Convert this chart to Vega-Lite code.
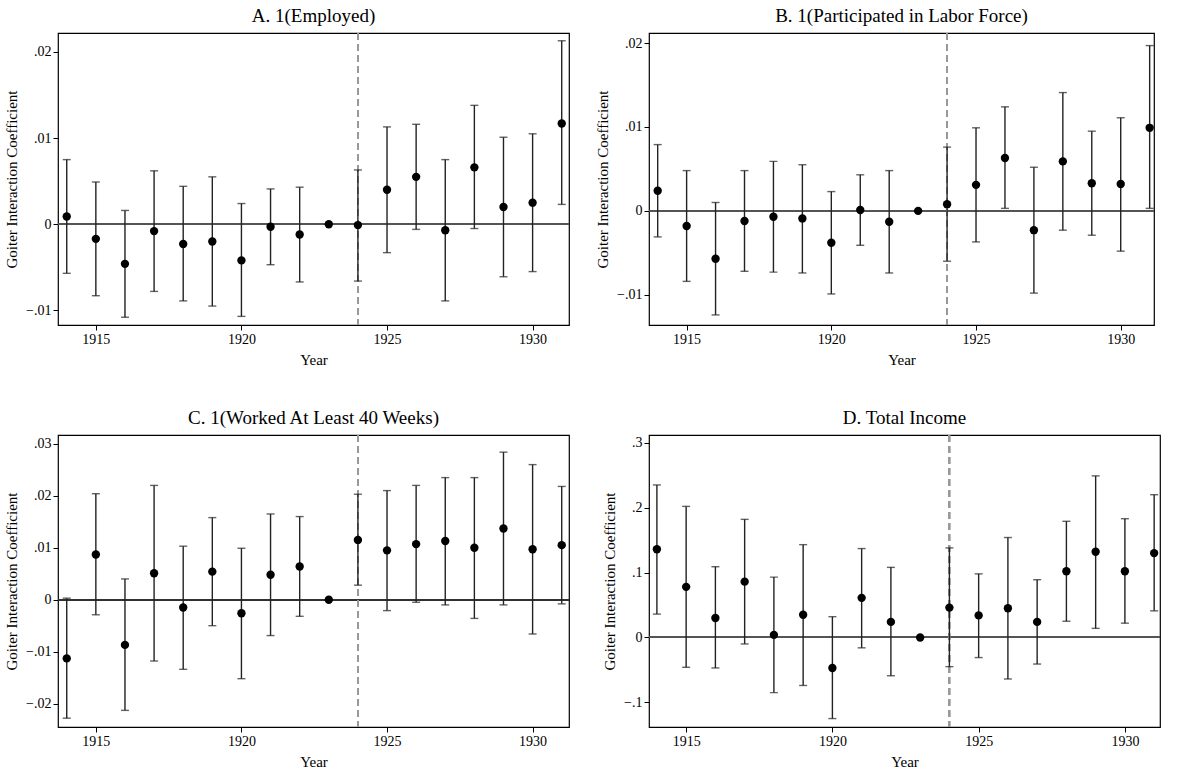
{
  "$schema": "https://vega.github.io/schema/vega-lite/v6.json",
  "padding": {"left": 4, "top": 6, "right": 0, "bottom": 0},
  "background": "white",
  "config": {
    "font": "Liberation Serif",
    "view": {"stroke": "black", "strokeWidth": 1.2},
    "title": {"fontSize": 19, "fontWeight": "normal", "font": "Liberation Serif", "offset": 6},
    "axis": {"grid": false, "labelFont": "Liberation Serif", "titleFont": "Liberation Serif", "labelFontSize": 14, "titleFontSize": 15, "titleFontWeight": "normal", "domain": false, "tickColor": "black", "labelColor": "black", "titleColor": "black", "tickSize": 5, "titlePadding": 6}
  },
  "spacing": {"row": 40, "column": 24},
  "columns": 2,
  "datasets": {
    "A": [
      {"year": 1914, "b": 0.0009, "lo": -0.0057, "hi": 0.0075},
      {"year": 1915, "b": -0.0017, "lo": -0.0083, "hi": 0.0049},
      {"year": 1916, "b": -0.0046, "lo": -0.0108, "hi": 0.0016},
      {"year": 1917, "b": -0.0008, "lo": -0.0078, "hi": 0.0062},
      {"year": 1918, "b": -0.0023, "lo": -0.0089, "hi": 0.0044},
      {"year": 1919, "b": -0.002, "lo": -0.0095, "hi": 0.0055},
      {"year": 1920, "b": -0.0042, "lo": -0.0107, "hi": 0.0024},
      {"year": 1921, "b": -0.0003, "lo": -0.0047, "hi": 0.0041},
      {"year": 1922, "b": -0.0012, "lo": -0.0067, "hi": 0.0043},
      {"year": 1923, "b": 0, "lo": 0, "hi": 0},
      {"year": 1924, "b": -0.0001, "lo": -0.0066, "hi": 0.0063},
      {"year": 1925, "b": 0.004, "lo": -0.0033, "hi": 0.0113},
      {"year": 1926, "b": 0.0055, "lo": -0.0006, "hi": 0.0116},
      {"year": 1927, "b": -0.0007, "lo": -0.0089, "hi": 0.0075},
      {"year": 1928, "b": 0.0066, "lo": -0.0005, "hi": 0.0138},
      {"year": 1929, "b": 0.002, "lo": -0.0061, "hi": 0.0101},
      {"year": 1930, "b": 0.0025, "lo": -0.0055, "hi": 0.0105},
      {"year": 1931, "b": 0.0117, "lo": 0.0023, "hi": 0.0213}
    ],
    "B": [
      {"year": 1914, "b": 0.0024, "lo": -0.0031, "hi": 0.0079},
      {"year": 1915, "b": -0.0018, "lo": -0.0084, "hi": 0.0048},
      {"year": 1916, "b": -0.0057, "lo": -0.0124, "hi": 0.001},
      {"year": 1917, "b": -0.0012, "lo": -0.0072, "hi": 0.0048},
      {"year": 1918, "b": -0.0007, "lo": -0.0073, "hi": 0.0059},
      {"year": 1919, "b": -0.0009, "lo": -0.0074, "hi": 0.0055},
      {"year": 1920, "b": -0.0038, "lo": -0.0099, "hi": 0.0023},
      {"year": 1921, "b": 0.0001, "lo": -0.0041, "hi": 0.0043},
      {"year": 1922, "b": -0.0013, "lo": -0.0074, "hi": 0.0048},
      {"year": 1923, "b": 0, "lo": 0, "hi": 0},
      {"year": 1924, "b": 0.0008, "lo": -0.006, "hi": 0.0076},
      {"year": 1925, "b": 0.0031, "lo": -0.0037, "hi": 0.0099},
      {"year": 1926, "b": 0.0063, "lo": 0.0003, "hi": 0.0124},
      {"year": 1927, "b": -0.0023, "lo": -0.0098, "hi": 0.0052},
      {"year": 1928, "b": 0.0059, "lo": -0.0023, "hi": 0.0141},
      {"year": 1929, "b": 0.0033, "lo": -0.0029, "hi": 0.0095},
      {"year": 1930, "b": 0.0032, "lo": -0.0048, "hi": 0.0111},
      {"year": 1931, "b": 0.0099, "lo": 0.0003, "hi": 0.0197}
    ],
    "C": [
      {"year": 1914, "b": -0.0113, "lo": -0.0228, "hi": 0.0003},
      {"year": 1915, "b": 0.0087, "lo": -0.0029, "hi": 0.0204},
      {"year": 1916, "b": -0.0087, "lo": -0.0213, "hi": 0.004},
      {"year": 1917, "b": 0.0051, "lo": -0.0118, "hi": 0.022},
      {"year": 1918, "b": -0.0015, "lo": -0.0134, "hi": 0.0103},
      {"year": 1919, "b": 0.0054, "lo": -0.005, "hi": 0.0158},
      {"year": 1920, "b": -0.0026, "lo": -0.0152, "hi": 0.0099},
      {"year": 1921, "b": 0.0048, "lo": -0.0069, "hi": 0.0165},
      {"year": 1922, "b": 0.0064, "lo": -0.0032, "hi": 0.016},
      {"year": 1923, "b": 0, "lo": 0, "hi": 0},
      {"year": 1924, "b": 0.0115, "lo": 0.0028, "hi": 0.0203},
      {"year": 1925, "b": 0.0095, "lo": -0.0021, "hi": 0.021},
      {"year": 1926, "b": 0.0107, "lo": -0.0005, "hi": 0.022},
      {"year": 1927, "b": 0.0113, "lo": -0.001, "hi": 0.0235},
      {"year": 1928, "b": 0.01, "lo": -0.0036, "hi": 0.0235},
      {"year": 1929, "b": 0.0137, "lo": -0.001, "hi": 0.0284},
      {"year": 1930, "b": 0.0097, "lo": -0.0066, "hi": 0.026},
      {"year": 1931, "b": 0.0105, "lo": -0.0008, "hi": 0.0218}
    ],
    "D": [
      {"year": 1914, "b": 0.136, "lo": 0.036, "hi": 0.235},
      {"year": 1915, "b": 0.078, "lo": -0.046, "hi": 0.202},
      {"year": 1916, "b": 0.03, "lo": -0.047, "hi": 0.109},
      {"year": 1917, "b": 0.086, "lo": -0.01, "hi": 0.182},
      {"year": 1918, "b": 0.004, "lo": -0.085, "hi": 0.093},
      {"year": 1919, "b": 0.035, "lo": -0.074, "hi": 0.143},
      {"year": 1920, "b": -0.047, "lo": -0.125, "hi": 0.032},
      {"year": 1921, "b": 0.061, "lo": -0.016, "hi": 0.137},
      {"year": 1922, "b": 0.024, "lo": -0.059, "hi": 0.108},
      {"year": 1923, "b": 0, "lo": 0, "hi": 0},
      {"year": 1924, "b": 0.046, "lo": -0.045, "hi": 0.138},
      {"year": 1925, "b": 0.034, "lo": -0.031, "hi": 0.098},
      {"year": 1926, "b": 0.045, "lo": -0.064, "hi": 0.154},
      {"year": 1927, "b": 0.024, "lo": -0.041, "hi": 0.089},
      {"year": 1928, "b": 0.102, "lo": 0.025, "hi": 0.179},
      {"year": 1929, "b": 0.132, "lo": 0.014, "hi": 0.249},
      {"year": 1930, "b": 0.102, "lo": 0.022, "hi": 0.183},
      {"year": 1931, "b": 0.13, "lo": 0.041, "hi": 0.22}
    ]
  },
  "concat": [
    {
      "title": "A. 1(Employed)",
      "width": 511, "height": 292,
      "data": {"name": "A"},
      "encoding": {
        "x": {"field": "year", "type": "quantitative", "title": "Year", "scale": {"domain": [1913.7, 1931.25], "nice": false, "zero": false}, "axis": {"values": [1915, 1920, 1925, 1930], "format": "d"}},
        "y": {"field": "b", "type": "quantitative", "title": "Goiter Interaction Coefficient", "scale": {"domain": [-0.0117, 0.0222], "nice": false}, "axis": {"values": [-0.01, 0, 0.01, 0.02], "labelExpr": "replace(format(datum.value, '.2~f'), '0.', '.')"}}
      },
      "layer": [
        {"mark": {"type": "rule", "color": "#555", "strokeWidth": 1.3}, "encoding": {"y": {"datum": 0}, "x": null}},
        {"mark": {"type": "rule", "color": "#999", "strokeDash": [7, 4], "strokeWidth": 1.3}, "encoding": {"x": {"datum": 1924}, "y": null}},
        {"mark": {"type": "rule", "color": "#222", "strokeWidth": 1.4}, "encoding": {"y": {"field": "lo"}, "y2": {"field": "hi"}}},
        {"mark": {"type": "tick", "orient": "horizontal", "color": "#222", "size": 8, "thickness": 1.4}, "encoding": {"y": {"field": "lo"}}},
        {"mark": {"type": "tick", "orient": "horizontal", "color": "#222", "size": 8, "thickness": 1.4}, "encoding": {"y": {"field": "hi"}}},
        {"mark": {"type": "point", "filled": true, "color": "black", "opacity": 1, "size": 70}}
      ]
    },
    {
      "title": "B. 1(Participated in Labor Force)",
      "width": 505, "height": 292,
      "data": {"name": "B"},
      "encoding": {
        "x": {"field": "year", "type": "quantitative", "title": "Year", "scale": {"domain": [1913.7, 1931.15], "nice": false, "zero": false}, "axis": {"values": [1915, 1920, 1925, 1930], "format": "d"}},
        "y": {"field": "b", "type": "quantitative", "title": "Goiter Interaction Coefficient", "scale": {"domain": [-0.0136, 0.0212], "nice": false}, "axis": {"values": [-0.01, 0, 0.01, 0.02], "labelExpr": "replace(format(datum.value, '.2~f'), '0.', '.')"}}
      },
      "layer": [
        {"mark": {"type": "rule", "color": "#555", "strokeWidth": 1.3}, "encoding": {"y": {"datum": 0}, "x": null}},
        {"mark": {"type": "rule", "color": "#999", "strokeDash": [7, 4], "strokeWidth": 1.3}, "encoding": {"x": {"datum": 1924}, "y": null}},
        {"mark": {"type": "rule", "color": "#222", "strokeWidth": 1.4}, "encoding": {"y": {"field": "lo"}, "y2": {"field": "hi"}}},
        {"mark": {"type": "tick", "orient": "horizontal", "color": "#222", "size": 8, "thickness": 1.4}, "encoding": {"y": {"field": "lo"}}},
        {"mark": {"type": "tick", "orient": "horizontal", "color": "#222", "size": 8, "thickness": 1.4}, "encoding": {"y": {"field": "hi"}}},
        {"mark": {"type": "point", "filled": true, "color": "black", "opacity": 1, "size": 70}}
      ]
    },
    {
      "title": "C. 1(Worked At Least 40 Weeks)",
      "width": 511, "height": 292,
      "data": {"name": "C"},
      "encoding": {
        "x": {"field": "year", "type": "quantitative", "title": "Year", "scale": {"domain": [1913.7, 1931.25], "nice": false, "zero": false}, "axis": {"values": [1915, 1920, 1925, 1930], "format": "d"}},
        "y": {"field": "b", "type": "quantitative", "title": "Goiter Interaction Coefficient", "scale": {"domain": [-0.0245, 0.0317], "nice": false}, "axis": {"values": [-0.02, -0.01, 0, 0.01, 0.02, 0.03], "labelExpr": "replace(format(datum.value, '.2~f'), '0.', '.')"}}
      },
      "layer": [
        {"mark": {"type": "rule", "color": "#333", "strokeWidth": 1.3}, "encoding": {"y": {"datum": 0}, "x": null}},
        {"mark": {"type": "rule", "color": "#999", "strokeDash": [7, 4], "strokeWidth": 1.3}, "encoding": {"x": {"datum": 1924}, "y": null}},
        {"mark": {"type": "rule", "color": "#222", "strokeWidth": 1.4}, "encoding": {"y": {"field": "lo"}, "y2": {"field": "hi"}}},
        {"mark": {"type": "tick", "orient": "horizontal", "color": "#222", "size": 8, "thickness": 1.4}, "encoding": {"y": {"field": "lo"}}},
        {"mark": {"type": "tick", "orient": "horizontal", "color": "#222", "size": 8, "thickness": 1.4}, "encoding": {"y": {"field": "hi"}}},
        {"mark": {"type": "point", "filled": true, "color": "black", "opacity": 1, "size": 70}}
      ]
    },
    {
      "title": "D. Total Income",
      "width": 511, "height": 292,
      "data": {"name": "D"},
      "encoding": {
        "x": {"field": "year", "type": "quantitative", "title": "Year", "scale": {"domain": [1913.73, 1931.2], "nice": false, "zero": false}, "axis": {"values": [1915, 1920, 1925, 1930], "format": "d"}},
        "y": {"field": "b", "type": "quantitative", "title": "Goiter Interaction Coefficient", "scale": {"domain": [-0.138, 0.312], "nice": false}, "axis": {"values": [-0.1, 0, 0.1, 0.2, 0.3], "labelExpr": "replace(format(datum.value, '.1~f'), '0.', '.')"}}
      },
      "layer": [
        {"mark": {"type": "rule", "color": "#555", "strokeWidth": 1.3}, "encoding": {"y": {"datum": 0}, "x": null}},
        {"mark": {"type": "rule", "color": "#999", "strokeDash": [7, 4], "strokeWidth": 1.3}, "encoding": {"x": {"datum": 1924}, "y": null}},
        {"mark": {"type": "rule", "color": "#222", "strokeWidth": 1.4}, "encoding": {"y": {"field": "lo"}, "y2": {"field": "hi"}}},
        {"mark": {"type": "tick", "orient": "horizontal", "color": "#222", "size": 8, "thickness": 1.4}, "encoding": {"y": {"field": "lo"}}},
        {"mark": {"type": "tick", "orient": "horizontal", "color": "#222", "size": 8, "thickness": 1.4}, "encoding": {"y": {"field": "hi"}}},
        {"mark": {"type": "point", "filled": true, "color": "black", "opacity": 1, "size": 70}}
      ]
    }
  ]
}
